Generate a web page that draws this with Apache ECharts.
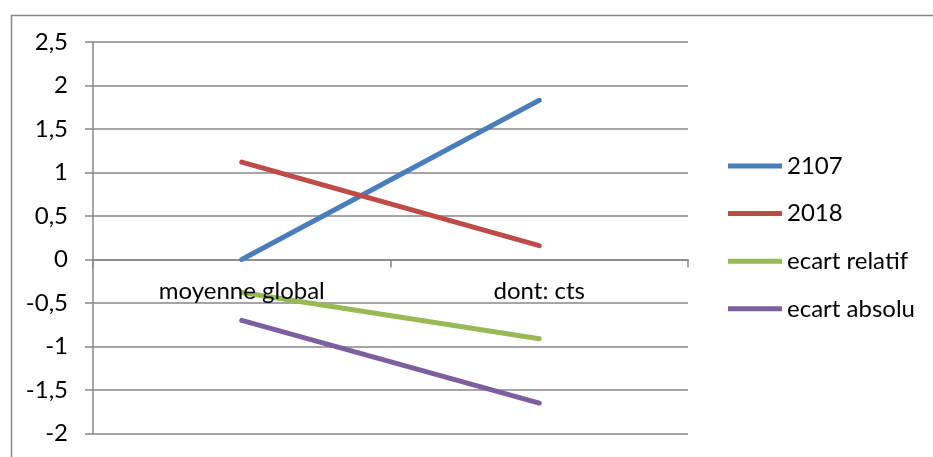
<!DOCTYPE html>
<html>
<head>
<meta charset="utf-8">
<script src="https://cdn.jsdelivr.net/npm/echarts@6/dist/echarts.min.js"></script>
<style>
html,body{margin:0;padding:0;background:#fff;}
#c{width:933px;height:457px;}
</style>
</head>
<body>
<div id="c"></div>
<script>
const categories = ["moyenne global", "dont: cts"];
const s2107 = [0, 1.83];
const s2018 = [1.12, 0.16];
const ecartRelatif = [-0.38, -0.91];
const ecartAbsolu = [-0.70, -1.65];
const seriesNames = ["2107", "2018", "ecart relatif", "ecart absolu"];
const yMin = -2, yMax = 2.5, yStep = 0.5;

const FONT = "Lato";
const FS = 24;
const GRAY = "#878787";
const colors = ["#4A7EBB", "#BE4B48", "#98B954", "#7D5FA0"];

const chart = echarts.init(document.getElementById('c'), null, {renderer: 'canvas'});
const mk = (name, data, i) => ({
  name, type: 'line', data, symbol: 'none', smooth: false,
  xAxisIndex: 0,
  lineStyle: {width: 5, color: colors[i], cap: 'round', join: 'round'},
  itemStyle: {color: colors[i]},
  emphasis: {disabled: true}
});
const GRID_BOTTOM = 23.5;
function build(labelOffset) {
  return {
    animation: false,
    textStyle: {fontFamily: FONT},
    graphic: [{
      type: 'rect', left: 9, top: 13, z: -1,
      shape: {x: 0, y: 0, width: 1000, height: 600},
      style: {fill: 'none', stroke: GRAY, lineWidth: 1.5}
    }],
    grid: {left: 93, right: 245, top: 42, bottom: GRID_BOTTOM, containLabel: false, outerBoundsMode: 'none'},
    legend: {
      orient: 'vertical', left: 728, top: 154, padding: 0,
      itemWidth: 54, itemHeight: 24, itemGap: 23.6,
      icon: 'path://M0,0 L54,0 L54,5 L0,5 Z',
      data: seriesNames,
      textStyle: {fontFamily: FONT, fontSize: FS, color: '#000'},
      selectedMode: false
    },
    xAxis: [{
      type: 'category', data: categories, boundaryGap: true,
      axisLine: {show: true, onZero: true, lineStyle: {color: GRAY, width: 1.5}},
      axisTick: {show: true, length: 8, inside: false, lineStyle: {color: GRAY, width: 1.5}},
      axisLabel: {show: false},
      splitLine: {show: false}
    }, {
      type: 'category', data: categories, boundaryGap: true, position: 'bottom',
      offset: labelOffset, z: 10,
      axisLine: {show: false, onZero: false},
      axisTick: {show: false},
      axisLabel: {margin: 20, fontFamily: FONT, fontSize: FS, color: '#000'},
      splitLine: {show: false}
    }],
    yAxis: {
      type: 'value', min: yMin, max: yMax, interval: yStep,
      axisLine: {show: true, lineStyle: {color: GRAY, width: 1.5}},
      axisTick: {show: true, length: 8, lineStyle: {color: GRAY, width: 1.5}},
      axisLabel: {margin: 25, fontFamily: FONT, fontSize: FS, color: '#000',
        formatter: v => String(v).replace('.', ',')},
      splitLine: {show: true, lineStyle: {color: GRAY, width: 1.5}}
    },
    series: [
      mk(seriesNames[0], s2107, 0),
      mk(seriesNames[1], s2018, 1),
      mk(seriesNames[2], ecartRelatif, 2),
      mk(seriesNames[3], ecartAbsolu, 3)
    ]
  };
}
chart.setOption(build(0));
const zeroY = chart.convertToPixel({yAxisIndex: 0}, 0);
const minY = chart.convertToPixel({yAxisIndex: 0}, yMin);
chart.setOption(build(zeroY - minY), true);
</script>
</body>
</html>
